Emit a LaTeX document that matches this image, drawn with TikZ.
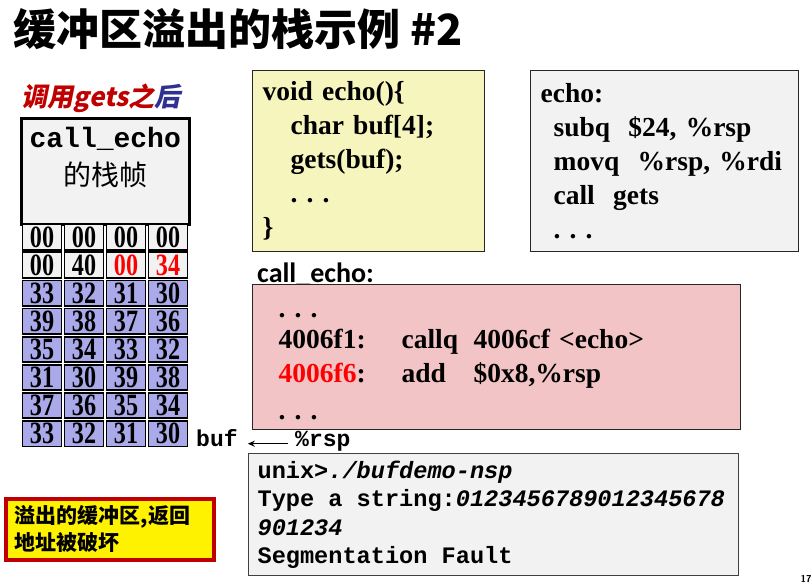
\documentclass[tikz,border=0pt]{standalone}
\usepackage{fontspec}
\setmainfont{Liberation Serif}
\setmonofont{Liberation Mono}
\newfontfamily\cjk{Noto Sans CJK SC}
\newfontfamily\cjkit[FakeSlant=0.2]{Noto Sans CJK SC}
\newfontfamily\carlito{Carlito}
\newfontfamily\narrowserif[FakeStretch=0.78]{Liberation Serif}
\usetikzlibrary{positioning,arrows.meta}
\newcommand{\tsp}{\hspace{0.6em}}
\definecolor{gray0}{RGB}{242,242,242}
\definecolor{codeyellow}{RGB}{247,245,190}
\definecolor{codepink}{RGB}{242,196,197}
\definecolor{stackblue}{RGB}{170,170,235}
\definecolor{darkred}{RGB}{192,0,0}
\definecolor{bluetxt}{RGB}{46,49,146}
\tikzstyle{codebox} = [draw=black!85, line width=1.2pt, rectangle, anchor=north west, align=left, inner xsep=10pt, inner ysep=0pt, font=\bfseries\fontsize{27.5}{34}\selectfont]
\tikzstyle{termbox} = [draw=black!75, line width=1.2pt, fill=gray0, rectangle, anchor=north west, align=left, inner xsep=9pt, inner ysep=0pt, font=\ttfamily\bfseries\fontsize{23.6}{28.5}\selectfont]
\tikzstyle{cell} = [draw, line width=1.8pt, minimum width=39pt, minimum height=25.5pt, inner sep=0pt, font=\narrowserif\bfseries\fontsize{31}{31}\selectfont]
\tikzstyle{frame} = [draw, line width=2.5pt, fill=gray0, anchor=north west, minimum width=168pt, minimum height=106pt]
\tikzstyle{ttlabel} = [anchor=base west, inner sep=2pt, font=\ttfamily\bfseries\fontsize{23}{23}\selectfont]
\tikzstyle{note} = [draw=darkred, line width=3.5pt, fill=yellow, anchor=north west, align=left, minimum width=208pt, minimum height=61pt, text width=190pt, inner xsep=9pt, font=\cjk\bfseries\fontsize{21}{27}\selectfont]

\begin{document}
\begin{tikzpicture}[x=1pt,y=-1pt]
	\useasboundingbox (0,0) rectangle (812,587);
	\node[anchor=west, font=\cjk\bfseries\fontsize{43}{43}\selectfont] (title) at (10,29) {缓冲区溢出的栈示例 \#2};
	\node[anchor=west, font=\cjkit\bfseries\fontsize{26}{26}\selectfont] (after) at (18,98) {\textcolor{darkred}{调用gets之}\textcolor{bluetxt}{后}};
	% stack
	\node[frame] (frame) at (20,117) {};
	\node[below=7pt of frame.north, font=\ttfamily\bfseries\fontsize{28}{28}\selectfont] (fname) {call\_echo};
	\node[below=4pt of fname, font=\cjk\fontsize{28}{28}\selectfont] (fcjk) {的栈帧};
	\foreach \fc/\va/\vb/\vc/\vd [count=\i] in {gray0/00/00/00/00, gray0/00/40/{\color{red}00}/{\color{red}34}, stackblue/33/32/31/30, stackblue/39/38/37/36, stackblue/35/34/33/32, stackblue/31/30/39/38, stackblue/37/36/35/34, stackblue/33/32/31/30}{
		\foreach \v [count=\j] in {\va,\vb,\vc,\vd}
			\node[cell, fill=\fc] (c\i\j) at ({42*\j},{237+28.1*(\i-1)}) {\v};
	}
	\node[ttlabel] (buf) at (194,446) {buf};
	\node[ttlabel] (rsp) at (293,446) {\%rsp};
	\draw[-{Stealth[length=7pt,width=6pt]}, line width=1.5pt, shorten <=5pt, shorten >=8pt] (rsp.mid west) -- (buf.mid east);
	% code
	\node[codebox, fill=codeyellow, text width=212pt, minimum height=181pt] (csrc) at (252,70) {void echo()\{\\\hspace*{28pt}char buf[4];\\\hspace*{28pt}gets(buf);\\\hspace*{28pt}.\ .\ .\\\}};
	\node[codebox, fill=gray0, text width=248pt, minimum height=181pt] (casm) at (530,70) {echo:\\\hspace*{13pt}subq\ \ \$24, \%rsp\\\hspace*{13pt}movq\ \ \%rsp, \%rdi\\\hspace*{13pt}call\ \ gets\\\hspace*{13pt}.\ .\ .};
	\node[anchor=base west, inner sep=0pt, font=\carlito\bfseries\fontsize{28}{28}\selectfont] (clabel) at (257,282) {call\_echo:};
	\node[codebox, fill=codepink, inner xsep=26pt, text width=436pt, minimum height=145pt] (ccall) at (252,284) {\rule{0pt}{23pt}.\ .\ .\\[-3pt]\makebox[123pt][l]{4006f1:}\makebox[72pt][l]{callq}4006cf <echo>\\\makebox[123pt][l]{\textcolor{red}{4006f6}:}\makebox[72pt][l]{add}\$0x8,\%rsp\\[3pt].\ .\ .};
	\node[termbox, text width=472pt, minimum height=122pt] (term) at (248,453) {\mbox{unix>\textit{./bufdemo-nsp}}\\\mbox{Type\tsp a\tsp string:\textit{0123456789012345678}}\\\textit{901234}\\\mbox{Segmentation\tsp Fault}};
	\node[note] (warn) at (4,497) {溢出的缓冲区,返回\\地址被破坏};
	\node[font=\sffamily\bfseries\fontsize{10}{10}\selectfont] (pnum) at (806,579) {17};
\end{tikzpicture}
\end{document}
